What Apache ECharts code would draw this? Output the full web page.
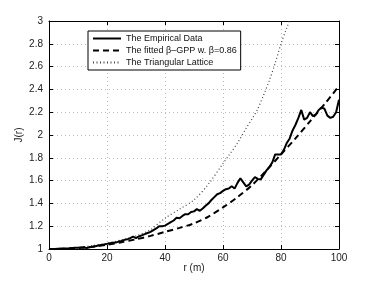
<!DOCTYPE html>
<html><head><meta charset="utf-8">
<script src="https://cdn.jsdelivr.net/npm/echarts@6/dist/echarts.min.js"></script>
<style>html,body{margin:0;padding:0;background:#fff}#c{width:374px;height:281px}</style>
</head><body><div id="c"></div>
<script>
// Empirical J(r), r = 0..100 step 1
const empiricalR = Array.from({length: 101}, (_, i) => i);
const empiricalJ = [
1.000,1.000,1.001,1.002,1.003,1.004,1.005,1.006,1.008,1.010,
1.012,1.014,1.016,1.008,1.015,1.020,1.025,1.030,1.035,1.040,
1.045,1.050,1.055,1.056,1.065,1.070,1.080,1.085,1.095,1.108,
1.095,1.110,1.120,1.130,1.140,1.150,1.165,1.180,1.200,1.200,
1.205,1.220,1.235,1.250,1.275,1.270,1.290,1.305,1.305,1.325,
1.330,1.350,1.335,1.355,1.380,1.400,1.430,1.455,1.480,1.490,
1.510,1.525,1.530,1.550,1.530,1.580,1.620,1.585,1.550,1.565,
1.600,1.630,1.615,1.610,1.650,1.690,1.720,1.760,1.830,1.830,
1.830,1.870,1.930,1.970,2.040,2.090,2.150,2.220,2.135,2.150,
2.200,2.165,2.180,2.220,2.240,2.230,2.170,2.150,2.160,2.200,
2.310];
// Fitted beta-GPP
const fitR = [0,5,10,15,20,25,30,35,40,45,50,55,60,65,70,75,80,85,90,95,100];
const fitJ = [1.0,1.002,1.008,1.02,1.037,1.06,1.085,1.115,1.15,1.185,1.225,1.285,1.365,1.455,1.56,1.69,1.83,1.97,2.12,2.27,2.43];
// Triangular lattice
const latR = [0,5,10,15,20,25,30,35,40,45,50,55,60,62,65,68,70,72,74,76,78,80,82,84,86];
const latJ = [1.0,1.003,1.012,1.03,1.05,1.08,1.115,1.17,1.27,1.35,1.43,1.57,1.75,1.82,1.93,2.06,2.14,2.23,2.35,2.48,2.63,2.80,2.94,3.07,3.2];

const names = ['The Empirical Data', 'The fitted \u03b2\u2013GPP w. \u03b2=0.86', 'The Triangular Lattice'];
const xTicks = [0,20,40,60,80,100];
const yTicks = [1,1.2,1.4,1.6,1.8,2,2.2,2.4,2.6,2.8,3];

const zip = (a, b) => a.map((v, i) => [v, b[i]]);
const font = 'Liberation Sans, Arial, sans-serif';
const chart = echarts.init(document.getElementById('c'), null, {renderer: 'canvas'});
const axisCommon = {
  axisLine: {show: true, onZero: false, lineStyle: {color: '#000', width: 1}},
  axisTick: {show: true, inside: true, length: 4, lineStyle: {color: '#000'}},
};
chart.setOption({
  animation: false,
  backgroundColor: '#fff',
  grid: {left: 49, right: 35, top: 21, bottom: 32, containLabel: false},
  legend: {
    orient: 'vertical', left: 88, top: 31,
    backgroundColor: '#fff', borderColor: '#000', borderWidth: 1,
    padding: [3, 4, 3, 4], itemGap: 3, itemWidth: 28, itemHeight: 10,
    itemStyle: {opacity: 0},
    textStyle: {fontFamily: font, fontSize: 9, color: '#111'},
    data: names
  },
  xAxis: [{
    type: 'value', min: 0, max: 100, interval: 20,
    name: 'r (m)', nameLocation: 'middle', nameGap: 14, nameMoveOverlap: false,
    nameTextStyle: {fontFamily: font, fontSize: 10, color: '#222'},
    axisLabel: {fontFamily: font, fontSize: 10, color: '#222', margin: 4},
    splitLine: {show: true, lineStyle: {color: '#bbb', type: [1, 3], width: 1}},
    ...axisCommon
  }, {
    type: 'value', position: 'top', min: 0, max: 100, interval: 20,
    axisLabel: {show: false}, splitLine: {show: false}, ...axisCommon
  }],
  yAxis: [{
    type: 'value', min: 1, max: 3, interval: 0.2,
    name: 'J(r)', nameLocation: 'middle', nameGap: 25, nameRotate: 90, nameMoveOverlap: false,
    nameTextStyle: {fontFamily: font, fontSize: 10, color: '#222'},
    axisLabel: {fontFamily: font, fontSize: 10, color: '#222', margin: 6,
      formatter: v => String(Math.round(v * 10) / 10)},
    splitLine: {show: true, lineStyle: {color: '#bbb', type: [1, 3], width: 1}},
    ...axisCommon
  }, {
    type: 'value', position: 'right', min: 1, max: 3, interval: 0.2,
    axisLabel: {show: false}, splitLine: {show: false}, ...axisCommon
  }],
  series: [
    {name: names[0], type: 'line', data: zip(empiricalR, empiricalJ), symbol: 'none', clip: true,
     lineStyle: {color: '#000', width: 2, type: 'solid'}, itemStyle: {color: '#000'}, z: 5},
    {name: names[1], type: 'line', data: zip(fitR, fitJ), symbol: 'none', smooth: 0.3, clip: true,
     lineStyle: {color: '#000', width: 2, type: [6, 4]}, itemStyle: {color: '#000'}, z: 4},
    {name: names[2], type: 'line', data: zip(latR, latJ), symbol: 'none', smooth: 0.3, clip: true,
     lineStyle: {color: '#444', width: 1.2, type: [1, 2.5]}, itemStyle: {color: '#444'}, z: 3}
  ]
});
</script></body></html>
